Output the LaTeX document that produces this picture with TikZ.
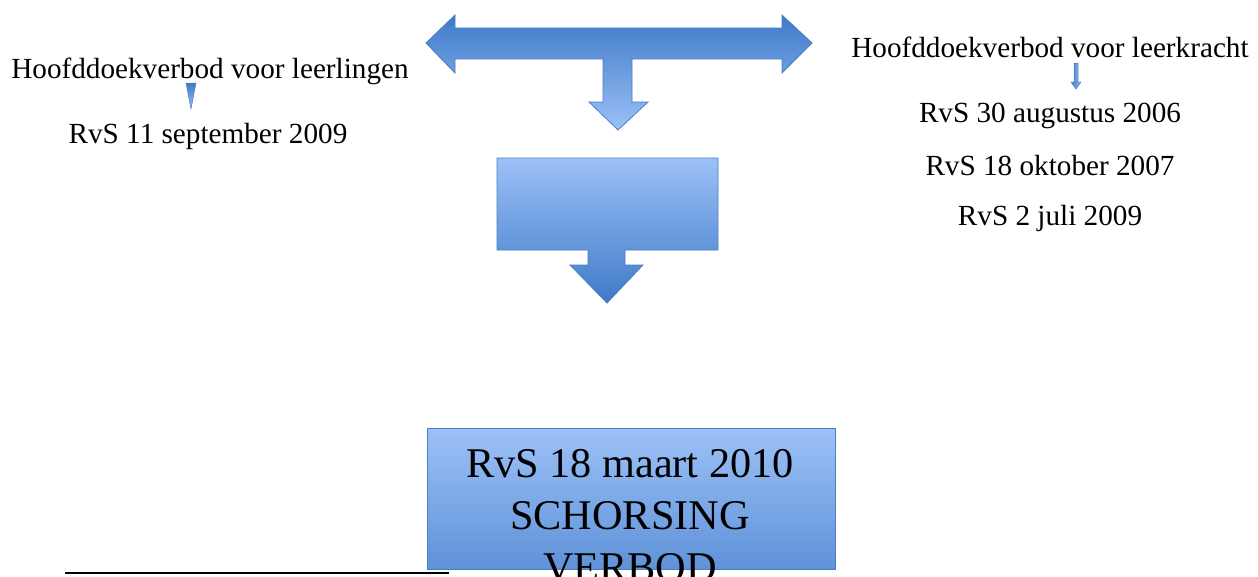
\documentclass[tikz,border=0pt]{standalone}
\usepackage{fontspec}
\setmainfont{Liberation Serif}
\usetikzlibrary{positioning}

\definecolor{arrowdark}{HTML}{3E7AC8}
\definecolor{arrowlight}{HTML}{9CC0F7}
\definecolor{boxlight}{HTML}{9DC1F7}
\definecolor{boxdark}{HTML}{5F92D8}
\definecolor{edgeblue}{HTML}{4A7EC4}

\tikzset{
	smalltext/.style={anchor=base, inner sep=0pt, font=\fontsize{29.2}{35}\selectfont},
	bigtext/.style={anchor=base, inner sep=0pt, font=\fontsize{42.3}{52}\selectfont},
	tarrow/.style={draw=edgeblue, line width=0.8pt, line join=miter, top color=arrowdark, bottom color=arrowlight},
	boxarrow/.style={draw=edgeblue, line width=0.8pt, line join=miter, top color=boxlight, bottom color=arrowdark},
	bigbox/.style={draw=edgeblue, line width=0.8pt, top color=boxlight, bottom color=boxdark}
}

\begin{document}
\begin{tikzpicture}[x=1pt, y=-1pt]
	\useasboundingbox (0,0) rectangle (1258,576);

	% double arrow with the branch down
	\path[tarrow] (426,43) -- (455,15) -- (455,28) -- (782,28) -- (782,15) -- (812,43)
		-- (782,73) -- (782,59) -- (632,59) -- (632,102) -- (648,102) -- (618,130)
		-- (589,102) -- (603,102) -- (603,59) -- (455,59) -- (455,73) -- cycle;

	% box with arrow
	\path[boxarrow] (497,158) -- (718,158) -- (718,250) -- (625,250) -- (625,265)
		-- (643,265) -- (607,303) -- (570,265) -- (588,265) -- (588,250)
		-- (497,250) -- cycle;

	% small arrows
	\path[draw=edgeblue, line width=0.5pt, top color=arrowdark, bottom color=arrowlight]
		(186,83) -- (196,83) -- (191,109) -- cycle;
	\path[draw=edgeblue, line width=0.5pt, left color=arrowdark, right color=arrowlight]
		(1074,63) -- (1078,63) -- (1078,82) -- (1081,82) -- (1076,89) -- (1071,82)
		-- (1074,82) -- cycle;

	% left column
	\node[smalltext] (leerlingen) at (210,78) {Hoofddoekverbod voor leerlingen};
	\node[smalltext] (rvs2009a) at (208,143) {RvS 11 september 2009};

	% right column
	\node[smalltext] (leerkracht) at (1050,57) {Hoofddoekverbod voor leerkracht};
	\node[smalltext] (rvs2006) at (1050,122) {RvS 30 augustus 2006};
	\node[smalltext] (rvs2007) at (1050,175) {RvS 18 oktober 2007};
	\node[smalltext] (rvs2009b) at (1050,225) {RvS 2 juli 2009};

	% bottom box
	\path[bigbox] (427,428) rectangle (835,569);
	\node[bigtext] (maart) at (630,477) {RvS 18 maart 2010};
	\node[bigtext] (schorsing) at (630,529) {SCHORSING};
	\node[bigtext] (verbod) at (630,581) {VERBOD};

	\draw[line width=2pt] (65,573) -- (449,573);
\end{tikzpicture}
\end{document}
